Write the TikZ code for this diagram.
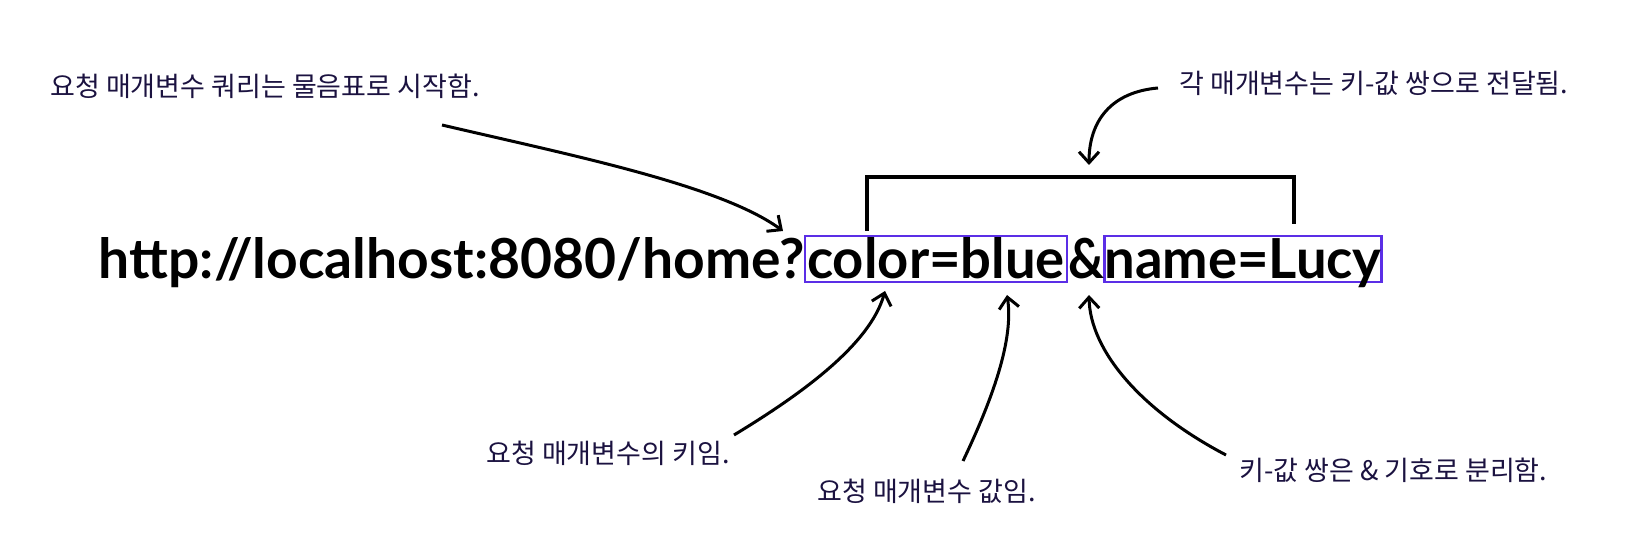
\documentclass[tikz,border=0pt]{standalone}
\usepackage{fontspec}
\usetikzlibrary{arrows.meta}
\newfontfamily\krfont{Noto Sans CJK KR}
\newfontfamily\urlfont{Lato}
\definecolor{navy}{HTML}{1B1240}
\definecolor{boxpurple}{HTML}{5B2EE6}
\tikzset{
  note/.style={font=\krfont\fontsize{13.5pt}{16pt}\selectfont, text=navy, inner sep=0pt, anchor=west},
  urltext/.style={font=\urlfont\bfseries\fontsize{27.6pt}{30pt}\selectfont, inner sep=0pt, text height=20pt, text depth=0pt},
  keybox/.style={urltext, draw=boxpurple, line width=1.1pt, minimum height=23pt},
  pointer/.style={line width=1.5pt, -{Straight Barb[length=5.5pt,width=10pt,line width=1.5pt]}},
  bracketline/.style={line width=1.6pt}
}
\begin{document}
\begin{tikzpicture}[x=0.5pt,y=-0.5pt]
\useasboundingbox (0,0) rectangle (1632,544);
% URL pieces
\node[keybox, minimum width=131pt] (key) at (936,259) {\scalebox{0.985}[1]{color=blue}};
\node[keybox, minimum width=137pt] (pair) at (1243,259) {\scalebox{0.985}[1]{name=Lucy}};
\node[urltext, anchor=base east] (base) at (805,279) {http://localhost:8080/home?};
\node[urltext, anchor=base] (amp) at (1086.5,279) {\scalebox{0.9}[1]{\&}};
% notes
\node[note] (n1) at (50,86) {요청 매개변수 쿼리는 물음표로 시작함.};
\node[note] (n2) at (1179,83) {각 매개변수는 키-값 쌍으로 전달됨.};
\node[note] (n3) at (486,453) {요청 매개변수의 키임.};
\node[note] (n4) at (817,491) {요청 매개변수 값임.};
\node[note] (n5) at (1239,470) {키-값 쌍은 \& 기호로 분리함.};
% bracket
\coordinate (bl) at (867,231);
\coordinate (tl) at (867,177);
\coordinate (tr) at (1294,177);
\coordinate (br) at (1294,224);
\draw[bracketline] (bl) -- (tl) -- (tr) -- (br);
% free ends
\coordinate (s1) at (442,125);
\coordinate (e1) at (783,231);
\coordinate (s2) at (1158,88);
\coordinate (e2) at (1089,165);
\coordinate (s3) at (734,435);
\coordinate (e3) at (885,291);
\coordinate (s4) at (963,461);
\coordinate (e4) at (1007,295);
\coordinate (s5) at (1226,455);
\coordinate (e5) at (1089,295);
\draw[pointer] (s1) .. controls (570,155) and (720,185) .. (e1);
\draw[pointer] (s2) .. controls (1112,92) and (1089,120) .. (e2);
\draw[pointer] (s3) .. controls (800,395) and (870,345) .. (e3);
\draw[pointer] (s4) .. controls (992,400) and (1014,340) .. (e4);
\draw[pointer] (s5) .. controls (1140,410) and (1090,350) .. (e5);
\end{tikzpicture}
\end{document}
